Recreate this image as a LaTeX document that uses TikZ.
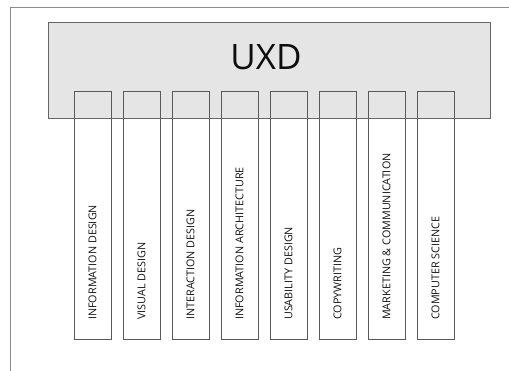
\documentclass[tikz,border=0pt]{standalone}
\usepackage{fontspec}
\setmainfont{Open Sans}
\begin{document}
\begin{tikzpicture}[x=1pt,y=-1pt,
  frameline/.style={draw=black!45,line width=0.8pt},
  topbox/.style={draw=black!60,fill=black!10,line width=0.9pt,minimum width=442pt,minimum height=96pt,inner sep=0pt,outer sep=0pt},
  colbox/.style={draw=black!65,line width=0.8pt,minimum width=37pt,minimum height=248pt,inner sep=0pt,outer sep=0pt},
  collabel/.style={rotate=90,anchor=west,inner sep=0pt,font=\fontsize{10.8}{12}\selectfont,text=black!92}]
\useasboundingbox (0,0) rectangle (509,370);
\fill[white] (0,0) rectangle (509,370);
\begin{scope}
\clip (0,0) rectangle (509,370);
\draw[frameline] (10,7) rectangle (520,380);
\end{scope}
\node[topbox] (uxd) at (269,70) {};
\node[inner sep=0pt,font=\fontsize{35}{40}\selectfont,text=black!95] (uxdt) at (266,57) {UXD};
\foreach \i/\t in {0/INFORMATION DESIGN,1/VISUAL DESIGN,2/INTERACTION DESIGN,3/INFORMATION ARCHITECTURE,4/USABILITY DESIGN,5/COPYWRITING,6/MARKETING \& COMMUNICATION,7/COMPUTER SCIENCE}{
  \node[colbox] (c\i) at ({92.5+49*\i},215) {};
  \node[collabel] (l\i) at ({92.5+49*\i},320) {\t};
}
\end{tikzpicture}
\end{document}
